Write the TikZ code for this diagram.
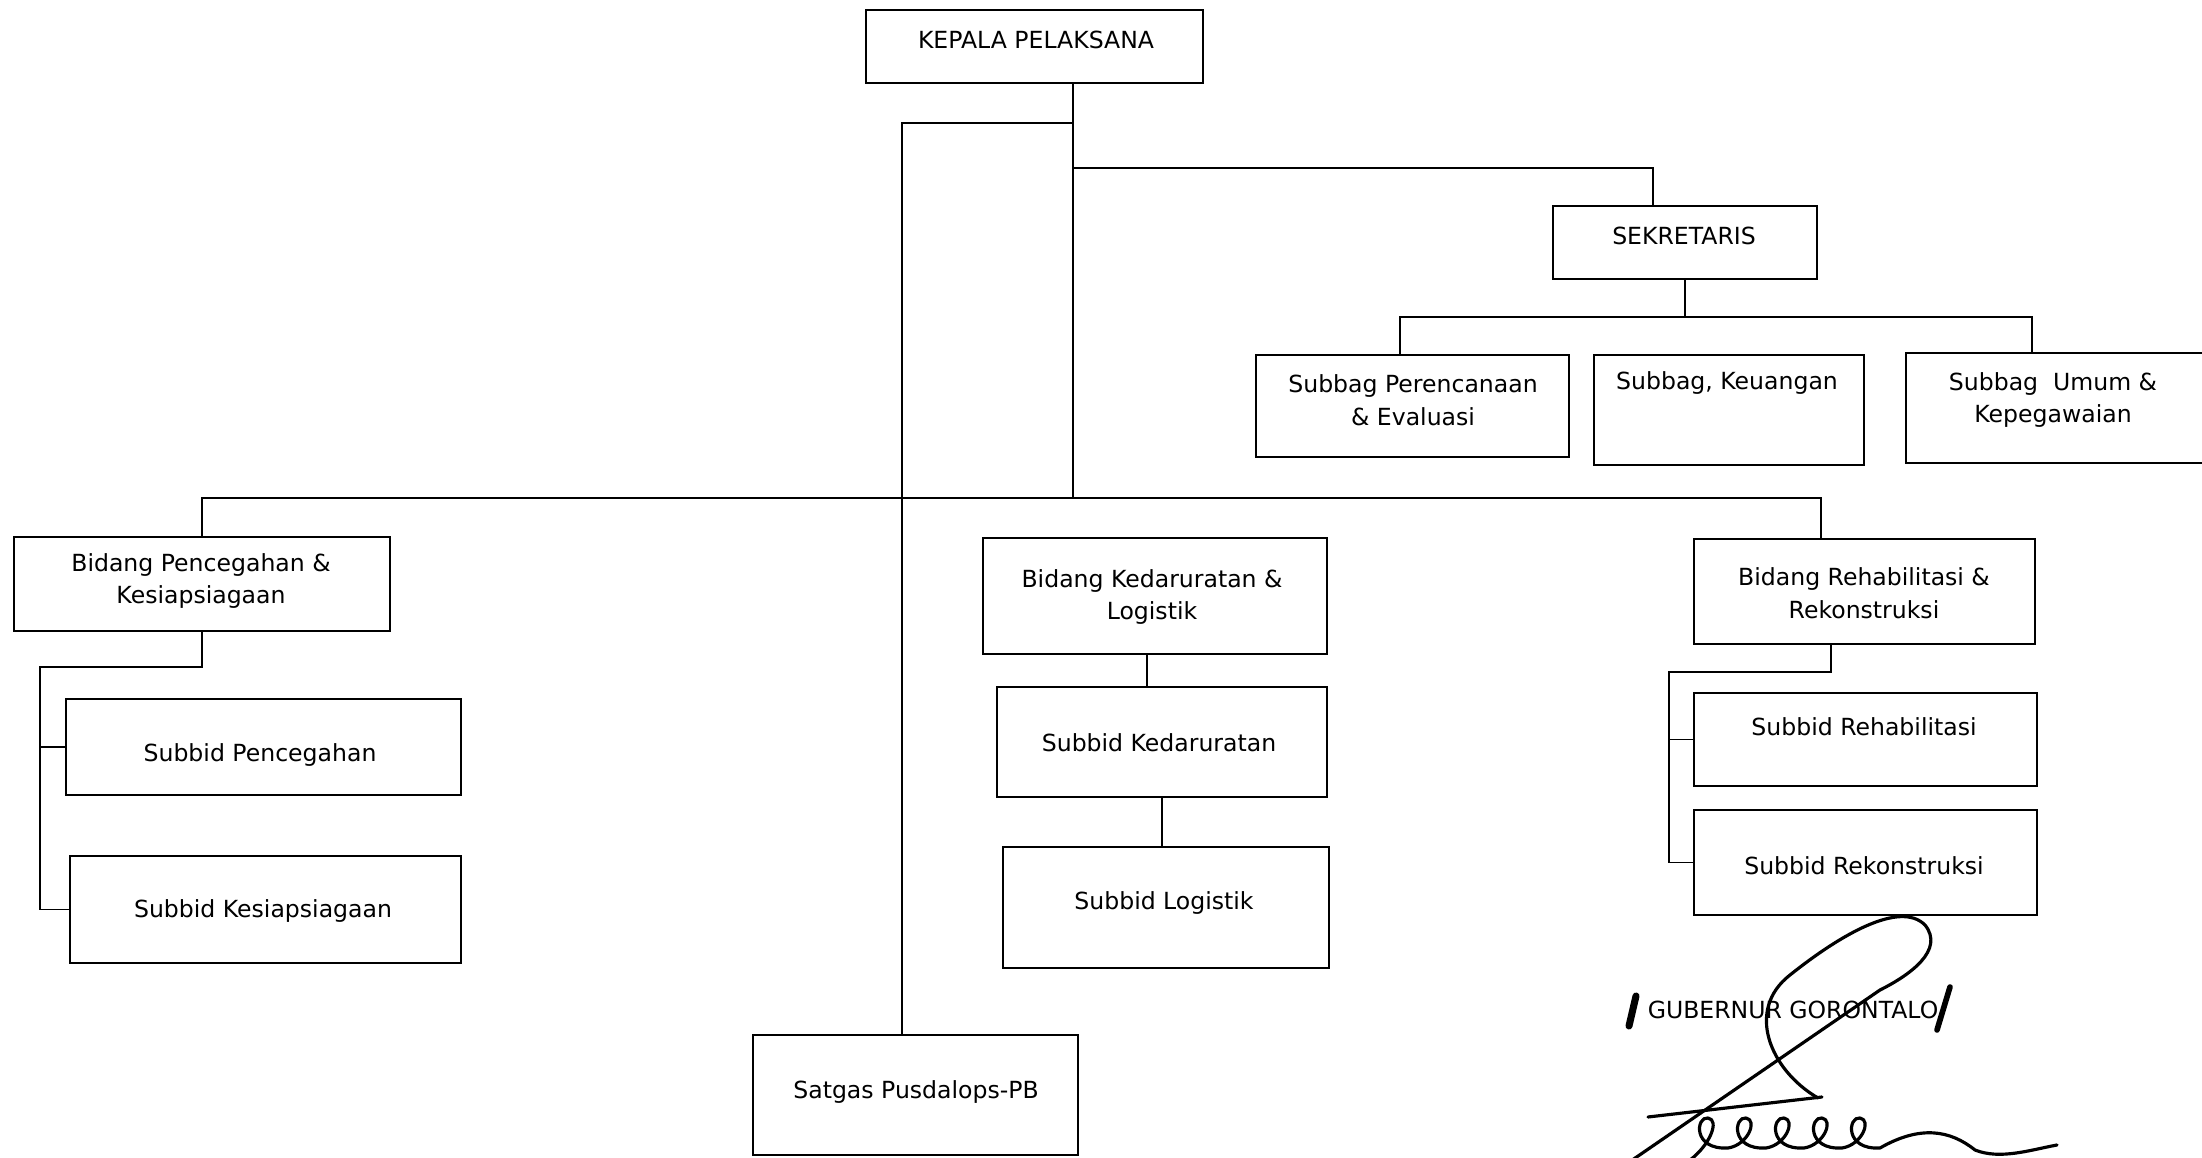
\documentclass[tikz,border=0pt]{standalone}
\usepackage{fontspec}
\setmainfont{DejaVu Sans}
\usetikzlibrary{calc}

\tikzset{
  box/.style={draw, line width=0.5pt, inner sep=0pt},
  txt/.style={align=center, inner sep=0pt, font=\fontsize{6.7}{9.3}\selectfont},
  link/.style={line width=0.5pt},
  pen/.style={line width=0.9pt, line cap=round, line join=round}
}

\begin{document}
\begin{tikzpicture}[x=0.01cm, y=-0.01cm]
  \useasboundingbox (0,0) rectangle (2202,1158);

  % kotak-kotak
  \node[box, minimum width=3.37cm, minimum height=0.73cm] (kepala) at (1034.5,46.5) {};
  \node[box, minimum width=2.64cm, minimum height=0.73cm] (sekretaris) at (1685,242.5) {};
  \node[box, minimum width=3.13cm, minimum height=1.02cm] (perenc) at (1412.5,406) {};
  \node[box, minimum width=2.70cm, minimum height=1.10cm] (keuangan) at (1729,410) {};
  \node[box, minimum width=3.06cm, minimum height=1.10cm] (umum) at (2059,408) {};
  \node[box, minimum width=3.76cm, minimum height=0.94cm] (bcegah) at (202,584) {};
  \node[box, minimum width=3.95cm, minimum height=0.96cm] (scegah) at (263.5,747) {};
  \node[box, minimum width=3.91cm, minimum height=1.07cm] (ssiaga) at (265.5,909.5) {};
  \node[box, minimum width=3.44cm, minimum height=1.16cm] (bdarurat) at (1155,596) {};
  \node[box, minimum width=3.30cm, minimum height=1.10cm] (sdarurat) at (1162,742) {};
  \node[box, minimum width=3.26cm, minimum height=1.21cm] (slogistik) at (1166,907.5) {};
  \node[box, minimum width=3.41cm, minimum height=1.05cm] (brehab) at (1864.5,591.5) {};
  \node[box, minimum width=3.43cm, minimum height=0.93cm] (srehab) at (1865.5,739.5) {};
  \node[box, minimum width=3.43cm, minimum height=1.05cm] (srekon) at (1865.5,862.5) {};
  \node[box, minimum width=3.25cm, minimum height=1.20cm] (satgas) at (915.5,1095) {};

  % teks
  \node[txt] (t-kepala) at (1036,40) {KEPALA PELAKSANA};
  \node[txt] (t-sekretaris) at (1684,236) {SEKRETARIS};
  \node[txt] (t-perenc) at (1413,400) {Subbag Perencanaan\\\& Evaluasi};
  \node[txt] (t-keuangan) at (1727,383) {Subbag, Keuangan};
  \node[txt] (t-umum) at (2053,400) {Subbag\ \ Umum \&\\Kepegawaian};
  \node[txt] (t-bcegah) at (201,581) {Bidang Pencegahan \&\\Kesiapsiagaan};
  \node[txt] (t-scegah) at (260,755) {Subbid Pencegahan};
  \node[txt] (t-ssiaga) at (263,911) {Subbid Kesiapsiagaan};
  \node[txt] (t-bdarurat) at (1152,597) {Bidang Kedaruratan \&\\Logistik};
  \node[txt] (t-sdarurat) at (1159,743) {Subbid Kedaruratan};
  \node[txt] (t-slogistik) at (1164,903) {Subbid Logistik};
  \node[txt] (t-brehab) at (1864,593) {Bidang Rehabilitasi \&\\Rekonstruksi};
  \node[txt] (t-srehab) at (1864,727) {Subbid Rehabilitasi};
  \node[txt] (t-srekon) at (1864,866) {Subbid Rekonstruksi};
  \node[txt] (t-satgas) at (916,1092) {Satgas Pusdalops-PB};

  % garis
  \coordinate (spine) at (1073,498);
  \draw[link] (kepala.south -| spine) -- (spine);
  \draw[link] (kepala.south -| spine) ++(0,39) -| ($(satgas.north)+(-13.5,0)$);
  \draw[link] (kepala.south -| spine) ++(0,84) -| ($(sekretaris.north)+(-32,0)$);
  \draw[link] (sekretaris.south) -- ++(0,37) coordinate (sekbus);
  \draw[link] ($(perenc.north)+(-12.5,0)$) |- (sekbus) -| ($(umum.north)+(-27,0)$);
  \draw[link] ($(keuangan.north)+(-11,0)$) -- ($(keuangan.north)+(-11,0)$ |- sekbus);
  \draw[link] (bcegah.north) |- (spine) -| ($(brehab.north)+(-43.5,0)$);
  \draw[link] ($(bdarurat.north)+(-22,0)$) -- ($(bdarurat.north)+(-22,0)$ |- spine);
  \draw[link] (bcegah.south) -- ++(0,35) -| ($(ssiaga.west)+(-29,0)$) coordinate (cg) -- (ssiaga.west);
  \draw[link] (scegah.west) -- (scegah.west -| cg);
  \draw[link] ($(bdarurat.south)+(-8,0)$) coordinate (kd) -- (kd |- sdarurat.north);
  \draw[link] (sdarurat.south) -- (sdarurat.south |- slogistik.north);
  \draw[link] ($(brehab.south)+(-33.5,0)$) -- ++(0,27) -| ($(srekon.west)+(-24,0)$) coordinate (rh) -- (srekon.west);
  \draw[link] (srehab.west) -- (srehab.west -| rh);

  % pengesahan
  \node[txt] (gubernur) at (1793,1010) {GUBERNUR GORONTALO};
  \draw[line width=2pt, line cap=round] (1629,1026) -- (1636,996);
  \draw[line width=1.6pt, line cap=round] (1937,1030) -- (1950,987);
  \draw[pen] (1818,1098) .. controls (1770,1070) and (1745,1010) .. (1790,975)
    .. controls (1840,935) and (1900,900) .. (1925,925)
    .. controls (1945,950) and (1910,975) .. (1880,990) -- (1625,1165);
  \draw[pen] (1822,1097) -- (1648,1117);
  \draw[pen] (1690,1160) \foreach \i in {0,...,4} {
      .. controls ({1690+38*\i+20},1145) and ({1690+38*\i+30},1120) .. ({1690+38*\i+18},1118)
      .. controls ({1690+38*\i+6},1116) and ({1690+38*\i+2},1150) .. ({1690+38*\i+38},1148) }
    .. controls (1920,1125) and (1950,1130) .. (1975,1150)
    .. controls (2000,1160) and (2030,1150) .. (2057,1145);
\end{tikzpicture}
\end{document}
